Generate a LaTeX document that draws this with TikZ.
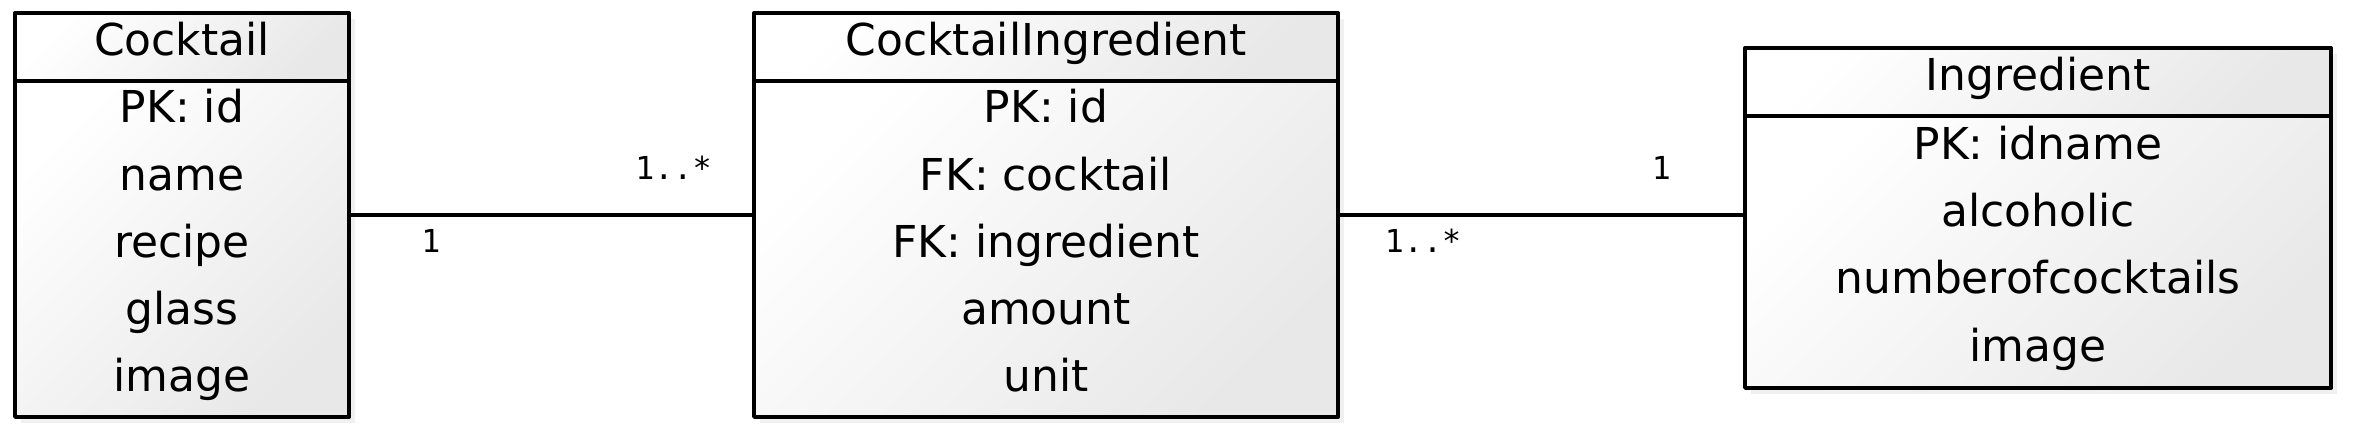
\documentclass[tikz,border=0pt]{standalone}
\usepackage{fontspec}
\setmainfont{DejaVu Sans}
\newfontfamily\multfont{DejaVu Sans Mono}
\usetikzlibrary{positioning,shadows}
\newcommand\rowstrut{\rule[-2mm]{0pt}{5.68mm}}

\begin{document}
\begin{tikzpicture}[line join=round,
		tbl/.style={draw, line width=1.1pt, outer sep=0pt, inner sep=0pt, top color=white, bottom color=gray!18, shading angle=45, drop shadow={shadow xshift=0.06cm, shadow yshift=-0.06cm, opacity=0.12}},
		head/.style={tbl, minimum height=0.68cm, font=\fontsize{12.5}{15}\selectfont},
		attrs/.style={tbl, align=center, font=\fontsize{12.5}{19.12}\selectfont},
		mult/.style={font=\multfont\fontsize{9}{11}\selectfont, inner sep=0pt, anchor=base}]
	\useasboundingbox (0,0) rectangle (23.54,4.36);
	\coordinate (link) at (0,2.21);
	% Cocktail
	\node[head, minimum width=3.34cm, anchor=north] (chead) at (1.82,4.23) {\rowstrut Cocktail};
	\node[attrs, minimum width=3.34cm, minimum height=3.36cm, below=0pt of chead] (cbody) {\rowstrut PK: id\\ name\\ recipe\\ glass\\ image\rowstrut};
	% CocktailIngredient
	\node[head, minimum width=5.84cm, anchor=north] (cihead) at (10.46,4.23) {\rowstrut CocktailIngredient};
	\node[attrs, minimum width=5.84cm, minimum height=3.36cm, below=0pt of cihead] (cibody) {\rowstrut PK: id\\ FK: cocktail\\ FK: ingredient\\ amount\\ unit\rowstrut};
	% Ingredient
	\node[head, minimum width=5.86cm, anchor=north] (ihead) at (20.38,3.88) {\rowstrut Ingredient};
	\node[attrs, minimum width=5.86cm, minimum height=2.72cm, below=0pt of ihead] (ibody) {\rowstrut PK: idname\\ alcoholic\\ numberofcocktails\\ image\rowstrut};
	% associations
	\draw[line width=1.1pt] (cbody.east |- link) -- (cibody.west |- link);
	\draw[line width=1.1pt] (cibody.east |- link) -- (ibody.west |- link);
	\node[mult] (m1) at (4.31,1.83) {1};
	\node[mult] (m2) at (6.735,2.56) {1..*};
	\node[mult] (m3) at (14.23,1.83) {1..*};
	\node[mult] (m4) at (16.615,2.56) {1};
\end{tikzpicture}
\end{document}
